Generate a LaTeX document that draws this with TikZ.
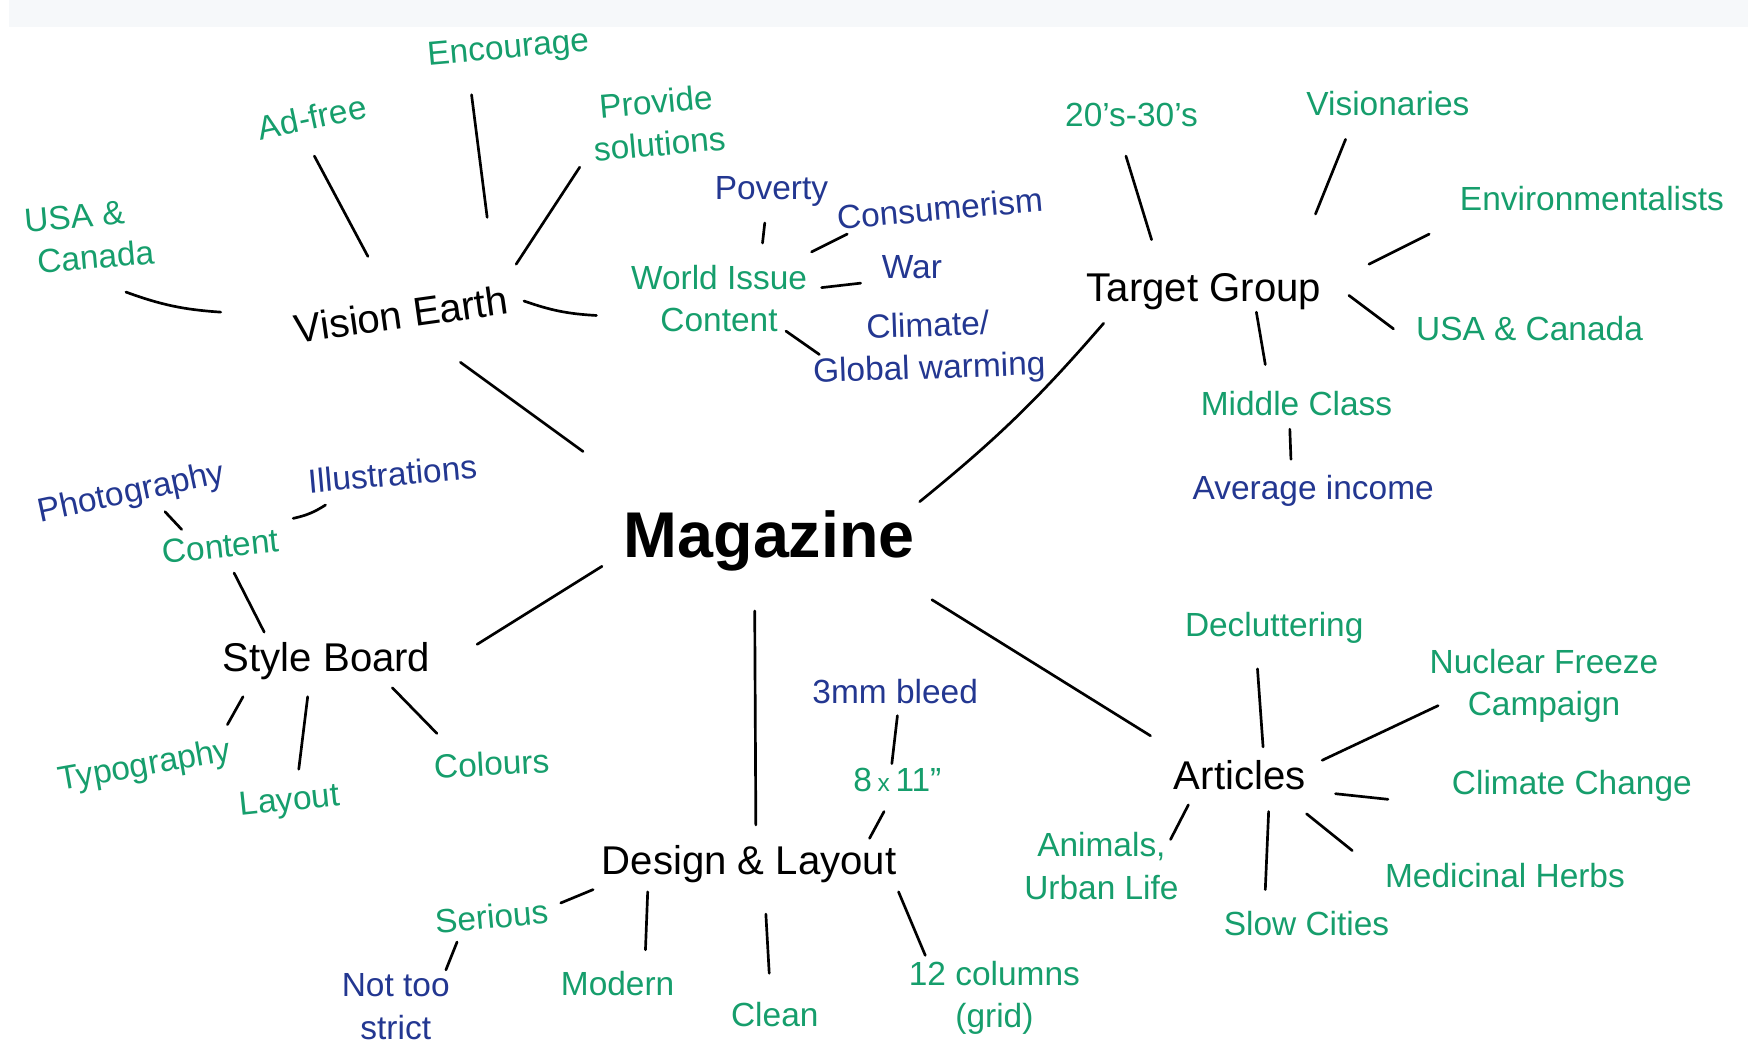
\documentclass[tikz,border=0pt]{standalone}
\usepackage{fontspec}
\setmainfont{Liberation Sans}
\usetikzlibrary{calc}

\definecolor{inkgreen}{RGB}{22,158,108}
\definecolor{inkblue}{RGB}{35,55,145}
\definecolor{paper}{RGB}{246,248,250}

\tikzset{
  hub/.style={font=\fontsize{29}{31}\selectfont\bfseries, text=black},
  topic/.style={font=\fontsize{18}{20}\selectfont, text=black},
  idea/.style={font=\fontsize{15}{19}\selectfont, text=inkgreen, align=center},
  detail/.style={font=\fontsize{15}{19}\selectfont, text=inkblue, align=center},
  branch/.style={line width=1.2pt, line cap=round}
}

\begin{document}
\begin{tikzpicture}[x=0.5pt, y=-0.5pt, inner sep=1pt]
  \useasboundingbox (0,0) rectangle (1568,940);
  \fill[white] (0,0) rectangle (1568,940);
  \fill[paper] (8,0) rectangle (1568,24);

  % centre and main topics
  \node[hub] (mag) at (690,485) {Magazine};
  \node[topic, rotate=8] (ve) at (360,282) {Vision Earth};
  \node[topic] (tg) at (1080,262) {Target Group};
  \node[topic] (sb) at (293,593) {Style Board};
  \node[topic] (dl) at (672,775) {Design \& Layout};
  \node[topic] (art) at (1112,695) {Articles};

  % Vision Earth
  \node[idea, rotate=5, align=left] (usa1) at (80,212) {USA \&\\\ Canada};
  \node[idea, rotate=12] (adf) at (280,105) {Ad-free};
  \node[idea, rotate=5] (enc) at (456,45) {Encourage};
  \node[idea, rotate=5] (prov) at (590,110) {Provide\\solutions};
  \node[idea] (wic) at (645,268) {World Issue\\Content};
  \node[detail] (pov) at (692,172) {Poverty};
  \node[detail, rotate=5] (con) at (843,187) {Consumerism};
  \node[detail] (war) at (818,240) {War};
  \node[detail, rotate=2] (clim) at (833,313) {Climate/\\Global warming};

  % Target Group
  \node[idea] (t20) at (1015,103) {20's-30's};
  \node[idea] (vis) at (1245,93) {Visionaries};
  \node[idea] (env) at (1428,178) {Environmentalists};
  \node[idea] (usa2) at (1372,295) {USA \& Canada};
  \node[idea] (mid) at (1163,362) {Middle Class};
  \node[detail] (avg) at (1178,440) {Average income};

  % Style Board
  \node[idea, rotate=6] (cont) at (198,490) {Content};
  \node[detail, rotate=12] (pho) at (118,443) {Photography};
  \node[detail, rotate=5] (ill) at (352,425) {Illustrations};
  \node[idea, rotate=10] (typ) at (130,688) {Typography};
  \node[idea, rotate=6] (lay) at (260,720) {Layout};
  \node[idea, rotate=3] (col) at (441,685) {Colours};

  % Design & Layout
  \node[detail] (mm3) at (803,620) {3mm bleed};
  \node[idea] (e11) at (805,700) {8\,{\fontsize{11}{12}\selectfont x}\,11"};
  \node[idea, rotate=5] (ser) at (441,822) {Serious};
  \node[detail] (nts) at (355,903) {Not too\\strict};
  \node[idea] (mod) at (554,882) {Modern};
  \node[idea] (cln) at (695,910) {Clean};
  \node[idea] (grid) at (892,895) {12 columns\\(grid)};

  % Articles
  \node[idea] (dec) at (1143,563) {Decluttering};
  \node[idea] (nuc) at (1385,615) {Nuclear Freeze\\Campaign};
  \node[idea] (cc) at (1410,705) {Climate Change};
  \node[idea] (med) at (1350,785) {Medicinal Herbs};
  \node[idea] (slow) at (1172,828) {Slow Cities};
  \node[idea] (ani) at (988,777) {Animals,\\Urban Life};

  % connectors
  \draw[branch] ($(mag.center)+(-167,-80)$) -- ($(ve.center)+(53,43)$);
  \draw[branch] ($(mag.center)+(135,-35)$) to[bend right=5] ($(tg.center)+(-90,28)$);
  \draw[branch] ($(mag.center)+(-150,23)$) -- ($(sb.center)+(135,-15)$);
  \draw[branch] ($(mag.center)+(-13,63)$) -- ($(dl.center)+(6,-35)$);
  \draw[branch] ($(mag.center)+(146,53)$) -- ($(art.center)+(-80,-35)$);

  \draw[branch] ($(ve.center)+(-162,-2)$) to[bend left=8] ($(usa1.center)+(33,50)$);
  \draw[branch] ($(ve.center)+(-30,-52)$) -- ($(adf.center)+(2,35)$);
  \draw[branch] ($(ve.center)+(77,-87)$) -- ($(enc.center)+(-33,40)$);
  \draw[branch] ($(ve.center)+(103,-45)$) -- ($(prov.center)+(-70,40)$);
  \draw[branch] ($(ve.center)+(110,-12)$) to[bend right=8] ($(wic.center)+(-110,15)$);
  \draw[branch] ($(wic.center)+(39,-50)$) -- ($(pov.center)+(-6,28)$);
  \draw[branch] ($(wic.center)+(83,-42)$) -- ($(con.center)+(-83,23)$);
  \draw[branch] ($(wic.center)+(92,-10)$) -- ($(war.center)+(-46,14)$);
  \draw[branch] ($(wic.center)+(60,29)$) -- ($(clim.center)+(-98,5)$);

  \draw[branch] ($(tg.center)+(-47,-47)$) -- ($(t20.center)+(-5,37)$);
  \draw[branch] ($(tg.center)+(100,-70)$) -- ($(vis.center)+(-38,32)$);
  \draw[branch] ($(tg.center)+(148,-25)$) -- ($(env.center)+(-146,32)$);
  \draw[branch] ($(tg.center)+(130,3)$) -- ($(usa2.center)+(-122,0)$);
  \draw[branch] ($(tg.center)+(47,18)$) -- ($(mid.center)+(-28,-35)$);
  \draw[branch] ($(mid.center)+(-6,23)$) -- ($(avg.center)+(-20,-28)$);

  \draw[branch] ($(sb.center)+(-56,-26)$) -- ($(cont.center)+(12,24)$);
  \draw[branch] ($(cont.center)+(-35,-15)$) -- ($(pho.center)+(30,16)$);
  \draw[branch] ($(cont.center)+(65,-25)$) to[bend right=10] ($(ill.center)+(-60,28)$);
  \draw[branch] ($(sb.center)+(-75,32)$) -- ($(typ.center)+(74,-38)$);
  \draw[branch] ($(sb.center)+(-17,32)$) -- ($(lay.center)+(8,-30)$);
  \draw[branch] ($(sb.center)+(59,24)$) -- ($(col.center)+(-49,-27)$);

  \draw[branch] ($(dl.center)+(108,-23)$) -- ($(e11.center)+(-12,28)$);
  \draw[branch] ($(e11.center)+(-5,-15)$) -- ($(mm3.center)+(2,22)$);
  \draw[branch] ($(dl.center)+(-140,23)$) -- ($(ser.center)+(62,-12)$);
  \draw[branch] ($(ser.center)+(-31,23)$) -- ($(nts.center)+(45,-33)$);
  \draw[branch] ($(dl.center)+(-91,25)$) -- ($(mod.center)+(25,-30)$);
  \draw[branch] ($(dl.center)+(15,45)$) -- ($(cln.center)+(-5,-37)$);
  \draw[branch] ($(dl.center)+(134,25)$) -- ($(grid.center)+(-62,-38)$);

  \draw[branch] ($(art.center)+(21,-25)$) -- ($(dec.center)+(-15,37)$);
  \draw[branch] ($(art.center)+(74,-13)$) -- ($(nuc.center)+(-95,18)$);
  \draw[branch] ($(art.center)+(86,17)$) -- ($(cc.center)+(-165,12)$);
  \draw[branch] ($(art.center)+(60,35)$) -- ($(med.center)+(-137,-22)$);
  \draw[branch] ($(art.center)+(26,33)$) -- ($(slow.center)+(-37,-30)$);
  \draw[branch] ($(art.center)+(-46,27)$) -- ($(ani.center)+(62,-24)$);
\end{tikzpicture}
\end{document}
